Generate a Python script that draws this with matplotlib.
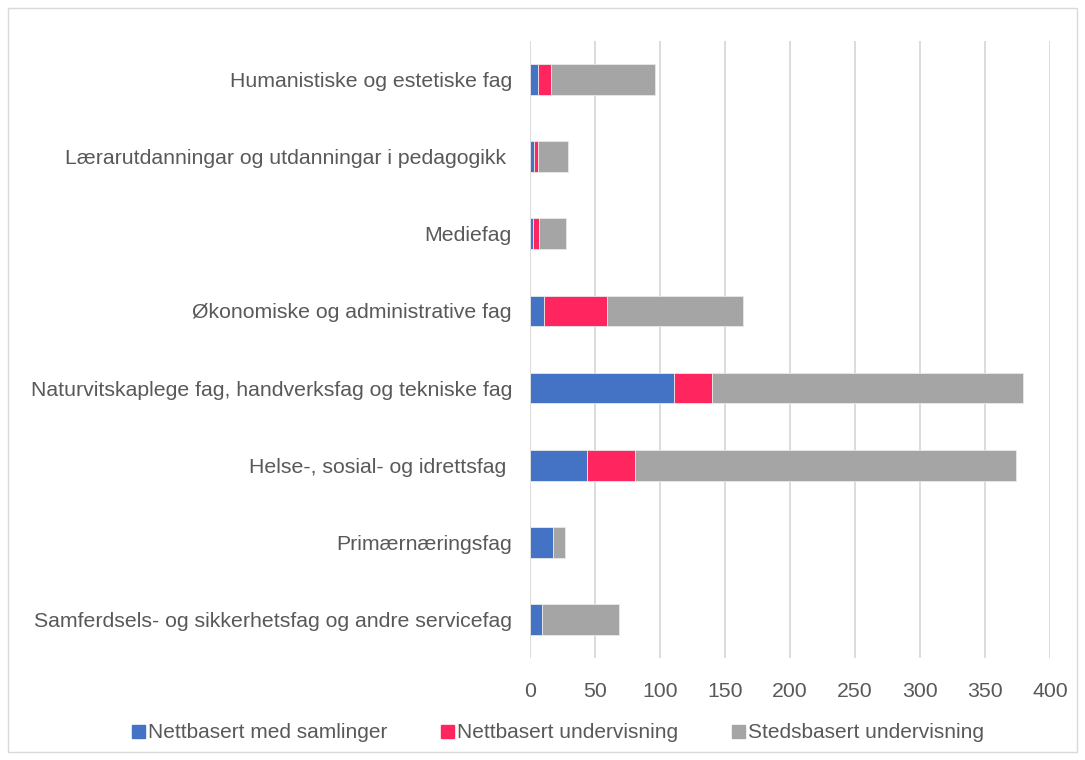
import matplotlib.pyplot as plt
from matplotlib.patches import Rectangle, Patch
import numpy as np

plt.rcParams['font.family'] = ['Liberation Sans', 'DejaVu Sans']

# categories, top to bottom as drawn
fag = [
    "Humanistiske og estetiske fag",
    "Lærarutdanningar og utdanningar i pedagogikk ",
    "Mediefag",
    "Økonomiske og administrative fag",
    "Naturvitskaplege fag, handverksfag og tekniske fag",
    "Helse-, sosial- og idrettsfag ",
    "Primærnæringsfag",
    "Samferdsels- og sikkerhetsfag og andre servicefag",
]
nett_samlinger = [6, 3, 2, 11, 111, 44, 18, 9]
nett_undervisning = [10, 3, 5, 48, 29, 37, 0, 0.5]
steds_undervisning = [80, 23, 21, 105, 239, 293, 9, 59]

serier = ["Nettbasert med samlinger", "Nettbasert undervisning", "Stedsbasert undervisning"]
farger = ["#4472C4", "#FF2660", "#A5A5A5"]

fig = plt.figure(figsize=(10.85, 7.6), dpi=100)
ax = fig.add_axes([530/1085, 1 - 658/760, 520/1085, 617/760])

y = np.arange(len(fag))
left = np.zeros(len(fag))
for vals, farge, navn in zip([nett_samlinger, nett_undervisning, steds_undervisning], farger, serier):
    ax.barh(y, vals, left=left, height=0.4, color=farge, label=navn,
            edgecolor="#E8E8E8", linewidth=0.6, zorder=3)
    left += np.array(vals)

ax.set_ylim(len(fag) - 0.5, -0.5)
ax.set_xlim(0, 400)
ax.set_xticks(range(0, 401, 50))
ax.set_yticks(y)
ax.set_yticklabels(fag)
ax.tick_params(axis="both", length=0, labelsize=15.3, labelcolor="#595959")
ax.tick_params(axis="y", pad=13)
ax.tick_params(axis="x", pad=17)
ax.grid(axis="x", color="#D9D9D9", linewidth=1.3, zorder=0)
for s in ax.spines.values():
    s.set_visible(False)

handles = [Patch(color=c) for c in farger]
fig.legend(handles, serier, loc="center", bbox_to_anchor=(558/1085, 1 - 733/760),
           ncol=3, frameon=False, fontsize=15, labelcolor="#595959",
           handlelength=0.6, handleheight=0.6, handletextpad=0.15, columnspacing=2.6)

fig.patches.append(Rectangle((8/1085, 8/760), 1069/1085, 744/760, transform=fig.transFigure,
                             fill=False, edgecolor="#D9D9D9", linewidth=1))

fig.savefig("out.png", dpi=100)
